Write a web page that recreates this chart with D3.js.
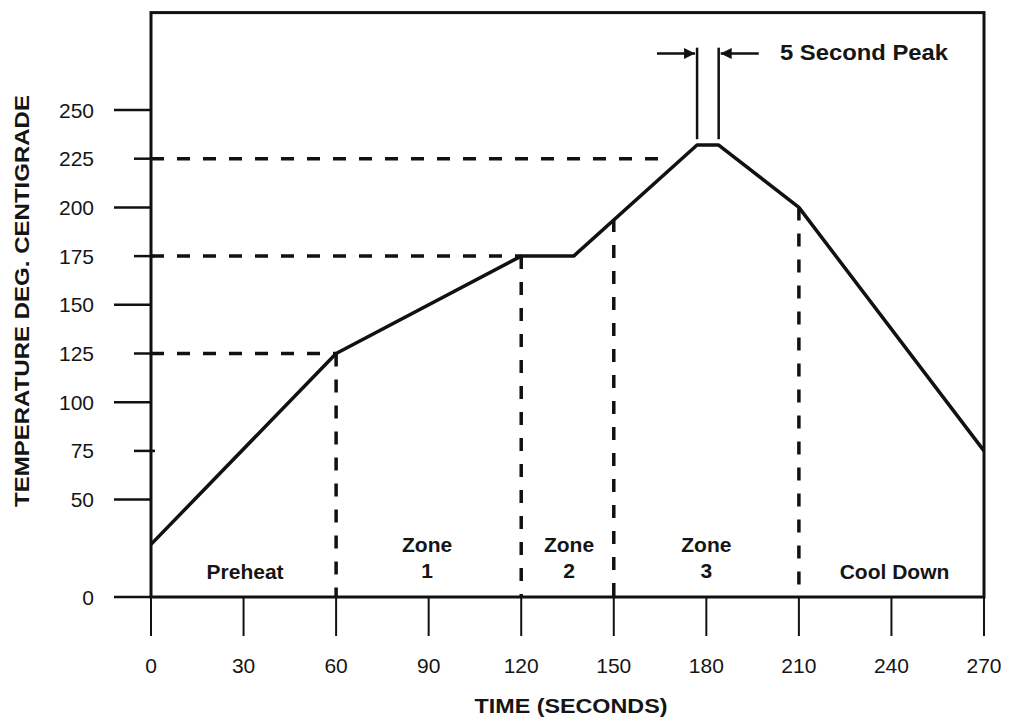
<!DOCTYPE html>
<html>
<head>
<meta charset="utf-8">
<script src="https://cdn.jsdelivr.net/npm/d3@7"></script>
<style>
  body { margin: 0; background: #fff; }
  text { font-family: "Liberation Sans", Arial, sans-serif; fill: #151515; }
</style>
</head>
<body>
<script>
// reflow profile
let profileTime = [0, 60, 120, 137, 177, 184, 210, 270];
let profileTemp = [27, 125, 175, 175, 232, 232, 200, 75];

let xTicks = [0, 30, 60, 90, 120, 150, 180, 210, 240, 270];
let yMajorTicks = [0, 50, 100, 150, 200, 250];
let yMinorTicks = [75, 125, 175, 225];
let yLabels = [0, 50, 75, 100, 125, 150, 175, 200, 225, 250];

// dashed guide lines
let hGuideTemp = [125, 175, 225];
let hGuideEnd = [60, 120, 167];
let vGuideTime = [60, 120, 150, 210];
let vGuideTop = [125, 175, 194, 200];

// peak markers
let peakTimes = [177, 184];
let peakMarkTop = 282, peakMarkBottom = 235, peakArrowTemp = 279;
let peakArrowTail = [164, 197];

let zoneNames = [["Preheat"], ["Zone", "1"], ["Zone", "2"], ["Zone", "3"], ["Cool Down"]];
let zoneCenters = [30.5, 89.5, 135.5, 180, 241];

let width = 1010,
    height = 717;

let svg = d3.select("body")
            .append("svg")
            .attr("width", width)
            .attr("height", height);

let x = d3.scaleLinear().domain([0, 270]).range([151, 984]);
let y = d3.scaleLinear().domain([0, 250]).range([597, 110]);

let ink = "#111";

// frame
svg.append("rect")
   .attr("x", x(0))
   .attr("y", y(300))
   .attr("width", x(270) - x(0))
   .attr("height", y(0) - y(300))
   .attr("fill", "none")
   .attr("stroke", ink)
   .attr("stroke-width", 3);

// y ticks
svg.append("g").selectAll("line.maj")
   .data(yMajorTicks)
   .enter().append("line")
   .attr("x1", 114).attr("x2", x(0))
   .attr("y1", d => y(d)).attr("y2", d => y(d))
   .attr("stroke", ink).attr("stroke-width", 2.5);

svg.append("g").selectAll("line.min")
   .data(yMinorTicks)
   .enter().append("line")
   .attr("x1", 134).attr("x2", x(0) + 4)
   .attr("y1", d => y(d)).attr("y2", d => y(d))
   .attr("stroke", ink).attr("stroke-width", 2.5);

svg.append("g").selectAll("text")
   .data(yLabels)
   .enter().append("text")
   .attr("x", 94)
   .attr("y", d => y(d))
   .attr("dy", "0.36em")
   .attr("text-anchor", "end")
   .style("font-size", "21px")
   .text(d => d);

// x ticks
svg.append("g").selectAll("line")
   .data(xTicks)
   .enter().append("line")
   .attr("x1", d => x(d)).attr("x2", d => x(d))
   .attr("y1", y(0)).attr("y2", 636)
   .attr("stroke", ink).attr("stroke-width", 2);

svg.append("g").selectAll("text")
   .data(xTicks)
   .enter().append("text")
   .attr("x", d => x(d))
   .attr("y", 673)
   .attr("text-anchor", "middle")
   .style("font-size", "21px")
   .text(d => d);

// axis titles
svg.append("text")
   .attr("transform", "translate(29," + 301 + ") rotate(-90)")
   .attr("text-anchor", "middle")
   .attr("textLength", 412)
   .attr("lengthAdjust", "spacingAndGlyphs")
   .style("font-size", "21px")
   .style("font-weight", "bold")
   .text("TEMPERATURE DEG. CENTIGRADE");

svg.append("text")
   .attr("x", 571)
   .attr("y", 713)
   .attr("text-anchor", "middle")
   .attr("textLength", 193)
   .attr("lengthAdjust", "spacingAndGlyphs")
   .style("font-size", "21px")
   .style("font-weight", "bold")
   .text("TIME (SECONDS)");

// dashed guides
svg.append("g").selectAll("line")
   .data(hGuideTemp)
   .enter().append("line")
   .attr("x1", x(0)).attr("x2", (d, i) => x(hGuideEnd[i]))
   .attr("y1", d => y(d)).attr("y2", d => y(d))
   .attr("stroke", ink).attr("stroke-width", 3.5)
   .attr("stroke-dasharray", "13,13");

svg.append("g").selectAll("line")
   .data(vGuideTime)
   .enter().append("line")
   .attr("x1", d => x(d)).attr("x2", d => x(d))
   .attr("y1", (d, i) => y(vGuideTop[i])).attr("y2", y(0))
   .attr("stroke", ink).attr("stroke-width", 3.5)
   .attr("stroke-dasharray", "13,13");

// profile
let profile = profileTime.map((t, i) => [t, profileTemp[i]]);
svg.append("path")
   .datum(profile)
   .attr("d", d3.line().x(d => x(d[0])).y(d => y(d[1])))
   .attr("fill", "none")
   .attr("stroke", ink)
   .attr("stroke-width", 3.5)
   .attr("stroke-linejoin", "round");

// peak width markers
svg.append("g").selectAll("line")
   .data(peakTimes)
   .enter().append("line")
   .attr("x1", d => x(d)).attr("x2", d => x(d))
   .attr("y1", y(peakMarkTop)).attr("y2", y(peakMarkBottom))
   .attr("stroke", ink).attr("stroke-width", 2.5);

svg.append("defs").append("marker")
   .attr("id", "head")
   .attr("viewBox", "0 0 10 10")
   .attr("refX", 10).attr("refY", 5)
   .attr("markerWidth", 11).attr("markerHeight", 11)
   .attr("markerUnits", "userSpaceOnUse")
   .attr("orient", "auto")
   .append("path")
   .attr("d", "M0,0L10,5L0,10Z")
   .attr("fill", ink);

svg.append("g").selectAll("line")
   .data(peakArrowTail)
   .enter().append("line")
   .attr("x1", d => x(d))
   .attr("x2", (d, i) => x(peakTimes[i]) + (i == 0 ? -2 : 2))
   .attr("y1", y(peakArrowTemp)).attr("y2", y(peakArrowTemp))
   .attr("stroke", ink).attr("stroke-width", 2.5)
   .attr("marker-end", "url(#head)");

svg.append("text")
   .attr("x", 780)
   .attr("y", 60)
   .attr("textLength", 168)
   .attr("lengthAdjust", "spacingAndGlyphs")
   .style("font-size", "22px")
   .style("font-weight", "bold")
   .text("5 Second Peak");

// zone labels
let zones = svg.append("g").selectAll("text")
   .data(zoneNames)
   .enter().append("text")
   .attr("text-anchor", "middle")
   .style("font-size", "21px")
   .style("font-weight", "bold");

zones.each(function(d, i) {
  let t = d3.select(this);
  let cx = x(zoneCenters[i]);
  d.forEach((line, j) => {
    t.append("tspan")
     .attr("x", cx)
     .attr("y", d.length == 1 ? 579 : 552 + j * 26)
     .text(line);
  });
});
</script>
</body>
</html>
